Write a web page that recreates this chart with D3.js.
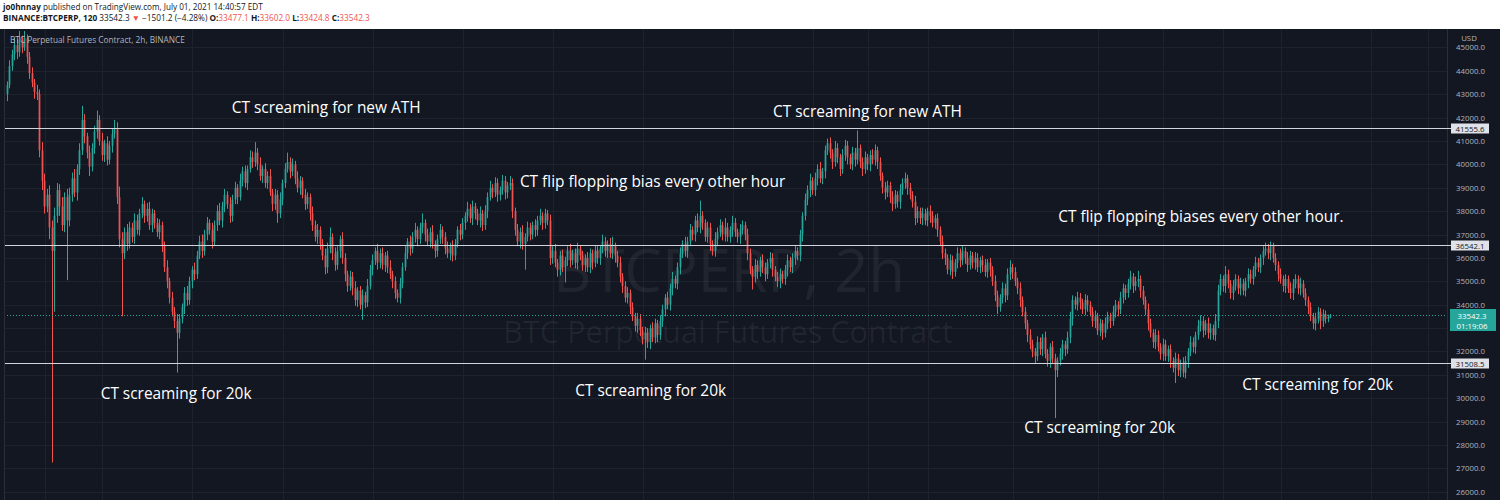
<!DOCTYPE html>
<html><head><meta charset="utf-8">
<script src="https://cdn.jsdelivr.net/npm/d3@7"></script>
<style>html,body{margin:0;padding:0;background:#131722;} svg{display:block;} text{white-space:pre;}</style>
</head><body><svg id="c" width="1500" height="500"></svg>
<script>
// ---------- DATA ----------
const firstOpen = 43000;
const closes = [
43400,44200,44700,45100,44800,45300,45000,45400,44600,43900,
43500,43100,43000,40600,39300,38200,38700,37300,36300,37800,
38900,38200,37400,38600,37600,38700,39400,38800,39800,40600,
41900,41200,40500,39900,40700,41400,41900,41000,40400,40900,
40200,40800,41300,41500,38600,36800,36200,37100,36600,37300,
36900,37600,37200,37900,38300,37800,38100,37400,37900,37500,
37100,37400,36500,35600,35000,34300,33700,33300,32800,33400,
33900,34500,34200,35000,35500,35300,36100,36700,36300,37000,
37500,37200,36700,37400,38000,37600,38200,38700,38300,37800,
38500,39000,38600,39300,39700,39200,39800,40300,40100,40500,
40000,39500,39800,39200,39500,38800,38300,38700,37900,38500,
39200,39800,40100,39700,40000,39400,39000,39300,38700,38300,
38600,37900,37400,36900,37200,36600,36100,35600,36400,36900,
36200,35700,36300,36800,36000,35300,34800,35200,34700,34200,
34600,34000,34400,34100,34800,35500,35900,36300,35800,36200,
35700,36100,35600,35300,35000,34500,34300,34900,35600,36200,
36700,36400,36900,37200,36800,37300,37500,37000,36700,37100,
36600,36300,36800,37200,36900,36400,36200,36500,36100,36600,
37200,37000,37500,37800,38100,37700,38200,37900,37600,37900,
37400,38000,38600,39000,38800,39200,38700,38900,39300,38800,
39100,39200,38000,37200,36700,37100,36600,36900,37300,37000,
37400,37200,37600,37800,37500,37900,37600,36000,36300,35800,
35500,36100,35600,35900,36300,35900,36200,35800,36400,36100,
35700,36000,35600,36200,35800,36300,36000,36400,36700,36300,
36600,36200,36500,36100,35800,35200,34800,34300,34500,33900,
33500,33100,33400,32900,32500,32800,32400,33000,32600,33200,
32700,33300,33800,34300,34000,34700,35100,34900,35600,36200,
36600,36300,36700,37200,37000,37600,37300,37800,37500,36900,
37300,36600,36300,36800,37100,37400,37000,37300,36900,37200,
37500,37100,36900,37200,37400,37000,36200,35500,35200,35700,
35400,35900,35600,35300,35800,36000,35500,35200,35000,35300,
35100,35500,35900,35600,36000,36300,36100,37000,37800,38500,
38900,39300,38900,39400,39800,39400,39700,40600,40900,40500,
40100,40700,40300,39800,40400,40800,40300,40000,40500,40200,
40700,40100,39800,40300,40000,40400,40200,40600,40100,39500,
39000,38800,39100,38600,38300,38700,38400,38900,39200,39400,
39000,38700,38400,37700,38000,37700,37900,37600,38000,37800,
37500,37700,37200,36700,36200,36000,35500,35900,35400,35800,
36200,35900,36300,36000,35700,36100,35800,36000,35600,35900,
35700,35400,35800,35500,35000,34400,33900,34300,34700,34400,
35300,35600,35400,35000,34700,34200,33700,33200,32700,32300,
32000,31800,32400,32100,32600,31900,31600,32200,31700,31200,
31600,31900,32300,32100,32600,33400,34200,34000,34300,34100,
33800,34200,34000,33700,33300,33500,32900,33200,32800,33200,
33500,33300,33700,34000,33800,34300,34700,34500,34900,35200,
34800,35000,35100,34600,34200,33800,33200,32800,32400,32700,
32200,31900,32300,31800,32100,31600,31300,31700,31200,31500,
31100,31600,32000,32400,32200,32700,33100,33300,32900,33200,
32800,33000,32700,33300,34600,35100,34800,35300,34900,34500,
34800,35100,34700,34900,34600,35000,35300,35100,35500,35800,
35600,36000,36300,36400,36200,36500,36000,35700,35300,35100,
34800,35100,34700,34500,34900,35100,34700,34900,34500,34200,
33900,33500,33200,33400,33700,33300,33600,33400,33477,33542
];
const wickUp = [
150,250,200,300,250,400,200,300,150,200, 250,150,300,200,350,300,250,400,300,350,
300,250,400,200,350,300,250,400,200,300, 600,250,150,300,200,250,400,200,350,150,
300,200,250,400,300,450,300,200,350,250, 200,300,250,200,300,150,250,300,200,150,
200,250,150,200,300,150,250,200,300,200, 150,250,300,200,150,300,200,250,300,200,
250,150,300,200,250,350,200,250,150,300, 200,250,150,300,200,250,150,300,250,450,
200,300,150,250,200,300,150,250,200,300, 150,250,400,200,250,150,300,200,150,250,
200,150,300,200,250,150,200,300,250,400, 150,250,200,150,300,200,150,250,200,300,
150,200,250,150,300,200,250,150,300,200, 250,150,200,300,150,200,150,250,200,300,
150,250,200,300,150,200,400,150,250,200, 300,150,200,250,150,200,300,150,250,200,
150,250,200,150,300,200,250,150,200,300, 150,250,200,300,150,250,200,150,250,200,
150,300,200,150,250,200,300,150,250,200, 150,250,200,300,150,200,150,250,200,300,
150,200,250,150,200,300,150,200,250,150, 200,150,250,200,150,250,200,150,300,200,
150,250,400,150,200,250,150,200,250,150, 200,150,250,200,150,250,200,150,250,200,
150,250,200,150,250,200,300,150,200,250, 150,300,200,250,150,200,300,650,200,150,
250,200,150,300,200,250,150,400,200,150, 300,200,150,250,200,150,250,200,150,250,
200,150,250,200,150,250,200,150,200,250, 150,200,250,150,200,250,150,200,150,250,
200,300,150,250,200,300,150,200,200,250, 150,300,200,150,250,250,200,150,250,200,
750,150,200,250,150,200,250,250,150,200, 150,250,200,150,250,200,150,250,200,250,
150,200,150,250,200,150,250,200,150,250, 200,150,200,150,250,200,150,250,200,150,
250,200,200,150,250,200,150,250,200,150, 200,250,150,200,150,250,200,150,250,200,
250,300,150,200,150,250,150,200,150,250, 200,150,250,200,150,250,200,150,250,200,
150,250,200,150,250,300,200,150,250,200, 150,250,200,150,200,250,150,200,150,250,
200,150,250,200,150,250,200,150,200,250, 150,200,350,150,200,150,250,200,150,250,
200,150,250,200,150,200,150,250,200,150, 250,200,150,250,200,150,250,250,200,150,
250,200,150,300,250,200,150,350,200,150, 250,200,150,250,200,150,250,200,150,250,
200,150,200,250,200,200,150,200,150,250, 150,200,150,250,200,200,150,250,150,200,
150,200,150,250,200,150,200,150,100,60
];
const wickDn = [
300,150,200,250,300,200,250,150,300,250, 200,300,250,300,400,300,250,500,9050,2600,
300,400,250,300,2550,250,300,200,350,250, 200,300,250,400,200,250,300,200,250,300,
250,200,300,200,300,350,2700,250,300,200, 250,300,200,250,200,300,250,200,300,250,
200,300,250,200,300,250,200,300,1700,250, 200,300,250,200,300,250,200,150,300,200,
250,200,300,150,250,200,300,250,200,300, 250,200,300,150,250,200,300,150,250,200,
250,200,300,200,250,150,300,250,400,200, 250,200,150,300,200,250,200,300,150,250,
200,300,250,200,300,250,200,300,250,200, 300,250,200,300,250,300,250,200,300,250,
300,200,650,250,200,150,250,200,300,250, 200,300,250,200,300,250,200,250,200,150,
250,300,200,250,300,200,250,300,200,250, 200,300,250,200,300,250,200,300,250,200,
150,250,200,300,250,200,300,250,200,300, 250,200,300,150,250,200,300,250,200,300,
250,200,300,250,200,300,250,1100,200,250, 200,300,250,200,300,250,200,300,250,200,
300,250,200,650,250,300,200,250,300,200, 250,300,200,250,300,200,250,300,200,250,
300,200,250,300,200,250,300,200,250,300, 200,250,300,250,200,850,250,300,200,250,
300,200,250,300,200,250,300,200,250,300, 200,250,300,200,250,300,200,250,300,200,
250,300,200,250,300,200,250,300,200,250, 300,200,250,300,200,250,300,200,550,250,
300,200,250,300,200,250,300,200,250,300, 200,250,300,200,250,300,200,250,300,200,
250,300,200,250,300,200,250,300,200,250, 300,200,250,300,200,250,300,200,250,300,
200,250,300,200,250,300,200,250,300,200, 250,300,200,250,300,200,250,300,200,250,
300,200,250,300,200,250,300,200,250,300, 200,250,300,200,250,300,200,250,300,200,
250,300,200,250,300,200,250,300,200,250, 300,200,250,300,200,250,300,200,250,300,
200,250,300,200,250,300,200,250,300,200, 250,300,200,250,300,200,250,300,200,2050,
300,200,250,300,200,250,300,200,250,300, 200,250,300,200,250,300,200,250,300,200,
250,300,200,250,300,200,250,300,200,250, 300,200,250,300,200,250,300,200,250,300,
200,250,300,200,250,300,200,650,250,300, 200,250,300,200,250,300,200,250,300,200,
250,300,200,250,300,200,250,300,200,250, 300,200,250,300,200,250,300,200,250,300,
200,250,300,200,250,300,200,250,300,200, 250,300,200,250,300,200,250,300,200,250,
300,200,250,300,200,350,250,200,150,55
];
const priceTicks = [26000,27000,28000,29000,30000,31000,32000,33000,34000,35000,
                    36000,37000,38000,39000,40000,41000,42000,43000,44000,45000];
const levels = [41555.6, 36542.1, 31508.5];
const lastPrice = 33542.3;
const countdown = "01:19:06";
const gridCandles = [15, 38, 74, 110, 146, 182, 218, 254, 290, 322, 344, 368, 402, 436, 462, 486, 509, 545, 568];
const noteTexts = ["CT screaming for new ATH","CT screaming for new ATH",
  "CT flip flopping bias every other hour","CT flip flopping biases every other hour.",
  "CT screaming for 20k","CT screaming for 20k","CT screaming for 20k","CT screaming for 20k"];
const noteIdx   = [89.7, 306.1, 204.9, 420.1, 37.3, 227.0, 406.5, 493.7];
const notePrice = [42200, 42030, 39030, 37540, 29970, 30100, 28520, 30360];
const headerLine1 = [["jo0hnnay","b"],[" published on TradingView.com, July 01, 2021 14:40:57 EDT","n"]];
const headerLine2 = [["BINANCE:BTCPERP, 120","b"],[" 33542.3 ","n"],["\u25BC","r"],[" \u22121501.2 (\u22124.28%) ","n"],
  ["O:","b"],["33477.1","r"],[" H:","b"],["33602.0","r"],[" L:","b"],["33424.8","r"],[" C:","b"],["33542.3","r"]];
const legendText = "BTC Perpetual Futures Contract, 2h, BINANCE";
const watermark = ["BTCPERP, 2h", "BTC Perpetual Futures Contract"];

// ---------- LAYOUT ----------
const W = 1500, H = 500, paneTop = 29, paneLeft = 4, axisX = 1447;
const UP = "#26a69a", DOWN = "#ef5350", BG = "#131722";
const FONT = "'Open Sans', 'Noto Sans', sans-serif";
const n = closes.length;

const svg = d3.select("#c");
svg.append("rect").attr("width", W).attr("height", H).attr("fill", BG);
svg.append("rect").attr("width", W).attr("height", paneTop).attr("fill", "#ffffff");

const x = d3.scaleBand().domain(d3.range(n)).range([6.5, 1331.5]).paddingInner(0.3);
const xc = i => x(0) + x.bandwidth() / 2 + i * x.step();
const y = d3.scaleLinear().domain([26000, 45000]).range([491.8, 47.4]);

svg.append("defs").append("clipPath").attr("id", "pane")
  .append("rect").attr("x", paneLeft).attr("y", paneTop).attr("width", axisX - paneLeft).attr("height", H - paneTop);
const pane = svg.append("g").attr("clip-path", "url(#pane)");

function fit(sel, target) {
  const len = sel.node().getComputedTextLength();
  const fs = parseFloat(sel.attr("font-size"));
  sel.attr("font-size", fs * target / len);
}

// grid
pane.append("g").selectAll("line").data(priceTicks).join("line")
  .attr("x1", paneLeft).attr("x2", axisX)
  .attr("y1", d => Math.round(y(d)) + 0.5).attr("y2", d => Math.round(y(d)) + 0.5)
  .attr("stroke", "#1e222d").attr("stroke-width", 1);
pane.append("g").selectAll("line").data(gridCandles).join("line")
  .attr("x1", d => Math.round(xc(d)) + 0.5).attr("x2", d => Math.round(xc(d)) + 0.5)
  .attr("y1", paneTop).attr("y2", H)
  .attr("stroke", "#1e222d").attr("stroke-width", 1);

// watermark
const wm1 = pane.append("text").attr("x", 729).attr("y", 292).attr("text-anchor", "middle")
  .attr("font-family", FONT).attr("font-size", 70).attr("fill", "rgba(255,255,255,0.06)").text(watermark[0]);
fit(wm1, 352);
const wm2 = pane.append("text").attr("x", 728).attr("y", 343).attr("text-anchor", "middle")
  .attr("font-family", FONT).attr("font-size", 35).attr("fill", "rgba(255,255,255,0.06)").text(watermark[1]);
fit(wm2, 450);

// candles
const candles = closes.map((c, i) => {
  const o = i === 0 ? firstOpen : closes[i - 1];
  return { i, o, c, h: Math.max(o, c) + wickUp[i], l: Math.min(o, c) - wickDn[i] };
});
const cg = pane.append("g");
cg.selectAll("line").data(candles).join("line")
  .attr("x1", d => Math.floor(xc(d.i)) + 0.5).attr("x2", d => Math.floor(xc(d.i)) + 0.5)
  .attr("y1", d => y(d.h)).attr("y2", d => y(d.l))
  .attr("stroke", d => d.c >= d.o ? UP : DOWN).attr("stroke-width", 1);
cg.selectAll("rect").data(candles).join("rect")
  .attr("x", d => Math.floor(xc(d.i)) + 0.5 - x.bandwidth() / 2)
  .attr("width", x.bandwidth())
  .attr("y", d => y(Math.max(d.o, d.c)))
  .attr("height", d => Math.max(1, y(Math.min(d.o, d.c)) - y(Math.max(d.o, d.c))))
  .attr("fill", d => d.c >= d.o ? UP : DOWN);

// horizontal level drawings
pane.append("g").selectAll("line").data(levels).join("line")
  .attr("x1", paneLeft).attr("x2", axisX)
  .attr("y1", d => Math.round(y(d)) + 0.5).attr("y2", d => Math.round(y(d)) + 0.5)
  .attr("stroke", "#d1d4dc").attr("stroke-width", 1);

// last price dotted line
pane.append("line").attr("x1", paneLeft).attr("x2", axisX)
  .attr("y1", Math.round(y(lastPrice)) + 0.5).attr("y2", Math.round(y(lastPrice)) + 0.5)
  .attr("stroke", UP).attr("stroke-dasharray", "1,2").attr("stroke-width", 1);

// annotations
const notes = svg.append("g").selectAll("text").data(noteTexts).join("text")
  .attr("x", (d, k) => xc(noteIdx[k])).attr("y", (d, k) => y(notePrice[k]))
  .attr("font-family", FONT).attr("font-size", 17).attr("fill", "#ffffff").text(d => d);
const probe = notes.filter((d, k) => k === 4);
const nfs = 17 * 151 / probe.node().getComputedTextLength();
notes.attr("font-size", nfs);

// pane border
svg.append("line").attr("x1", paneLeft + 0.5).attr("x2", paneLeft + 0.5).attr("y1", paneTop).attr("y2", H)
  .attr("stroke", "#2a2e39");

// price axis
const axisG = svg.append("g").attr("transform", `translate(${axisX},0)`)
  .call(d3.axisRight(y).tickValues(priceTicks).tickFormat(d3.format(".1f")).tickSize(0).tickPadding(9));
axisG.select(".domain").attr("stroke", "#2a2e39").attr("d", `M0.5,${paneTop}V${H}`);
axisG.selectAll("text").attr("font-family", FONT).attr("font-size", 8.5).attr("fill", "#b2b5be");
const axFs = 8.5 * 29 / axisG.select("text").node().getComputedTextLength();
axisG.selectAll("text").attr("font-size", axFs);
svg.append("text").attr("x", 1469).attr("y", 41).attr("text-anchor", "middle")
  .attr("font-family", FONT).attr("font-size", axFs).attr("fill", "#b2b5be").text("USD");

// level labels on axis
const lvl = svg.append("g").selectAll("g").data(levels).join("g")
  .attr("transform", d => `translate(0,${Math.round(y(d)) + 0.5})`);
lvl.append("line").attr("x1", axisX).attr("x2", 1452).attr("stroke", "#d1d4dc");
lvl.append("rect").attr("x", 1451).attr("y", -5).attr("width", 38).attr("height", 10).attr("fill", "#dfe2e8");
lvl.append("text").attr("x", 1470).attr("y", 3).attr("text-anchor", "middle")
  .attr("font-family", FONT).attr("font-size", axFs).attr("fill", BG).text(d => d3.format(".1f")(d));

// last price label
const ly = Math.round(y(lastPrice)) + 0.5;
svg.append("rect").attr("x", 1450).attr("y", ly - 6.5).attr("width", 46).attr("height", 22).attr("fill", UP);
svg.append("text").attr("x", 1472).attr("y", ly + 3).attr("text-anchor", "middle")
  .attr("font-family", FONT).attr("font-size", axFs).attr("fill", "#ffffff").text(d3.format(".1f")(lastPrice));
svg.append("text").attr("x", 1472).attr("y", ly + 13).attr("text-anchor", "middle")
  .attr("font-family", FONT).attr("font-size", axFs).attr("fill", "#ffffff").text(countdown);

// legend
const leg = svg.append("text").attr("x", 10).attr("y", 43).attr("font-family", FONT).attr("font-size", 9)
  .attr("fill", "#b2b5be").text(legendText);
fit(leg, 175);

// header
function header(parts, yy, width) {
  const t = svg.append("text").attr("x", 3).attr("y", yy).attr("font-family", FONT).attr("font-size", 10).attr("fill", BG);
  parts.forEach(([s, k]) => {
    t.append("tspan").attr("font-weight", k === "b" ? "bold" : "normal")
      .attr("fill", k === "r" ? DOWN : BG).text(s);
  });
  fit(t, width);
}
header(headerLine1, 10, 260);
header(headerLine2, 21, 367);
</script></body></html>
